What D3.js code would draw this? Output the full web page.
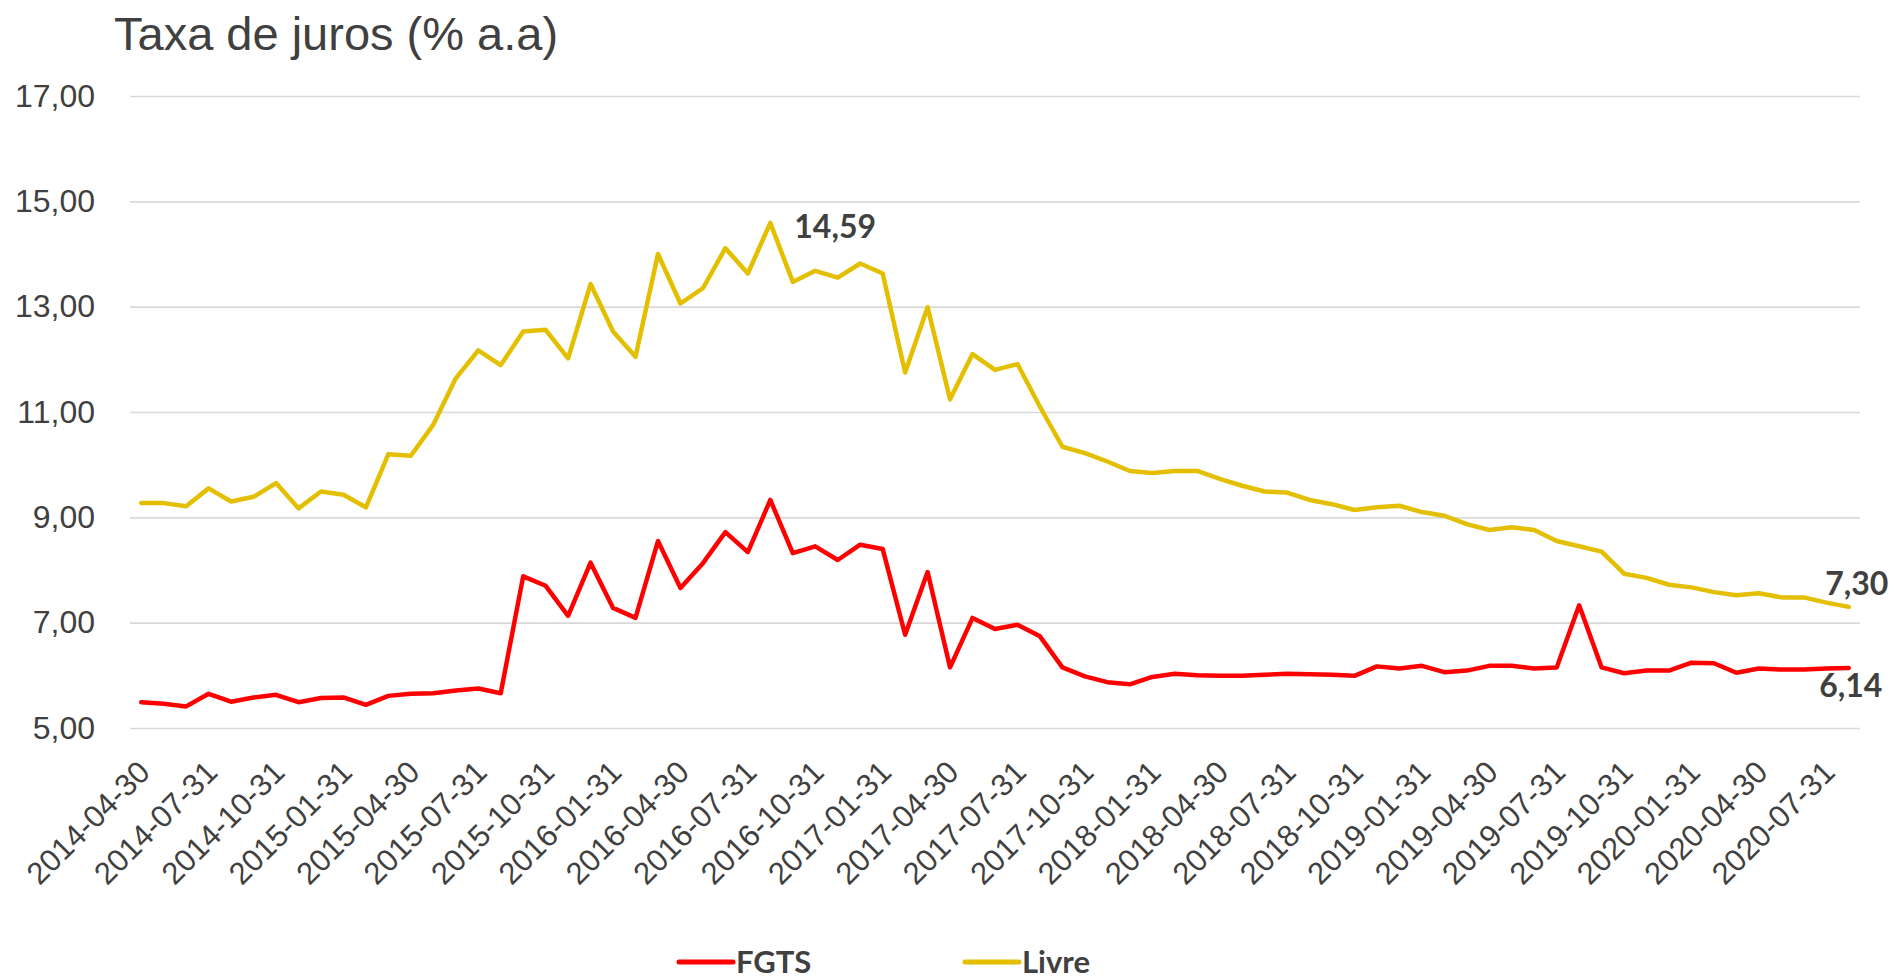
<!DOCTYPE html>
<html>
<head>
<meta charset="utf-8">
<script src="https://cdn.jsdelivr.net/npm/d3@7"></script>
<style>
    body { margin: 0; background: #ffffff; }
    svg { display: block; }
</style>
</head>
<body>
<svg id="plot" width="1897" height="980"></svg>
<script>

// Categories (month ends).

const DATES = [
    "2014-04-30", "2014-05-31", "2014-06-30", "2014-07-31", "2014-08-31", "2014-09-30",
    "2014-10-31", "2014-11-30", "2014-12-31",
    "2015-01-31", "2015-02-28", "2015-03-31", "2015-04-30", "2015-05-31", "2015-06-30",
    "2015-07-31", "2015-08-31", "2015-09-30", "2015-10-31", "2015-11-30", "2015-12-31",
    "2016-01-31", "2016-02-29", "2016-03-31", "2016-04-30", "2016-05-31", "2016-06-30",
    "2016-07-31", "2016-08-31", "2016-09-30", "2016-10-31", "2016-11-30", "2016-12-31",
    "2017-01-31", "2017-02-28", "2017-03-31", "2017-04-30", "2017-05-31", "2017-06-30",
    "2017-07-31", "2017-08-31", "2017-09-30", "2017-10-31", "2017-11-30", "2017-12-31",
    "2018-01-31", "2018-02-28", "2018-03-31", "2018-04-30", "2018-05-31", "2018-06-30",
    "2018-07-31", "2018-08-31", "2018-09-30", "2018-10-31", "2018-11-30", "2018-12-31",
    "2019-01-31", "2019-02-28", "2019-03-31", "2019-04-30", "2019-05-31", "2019-06-30",
    "2019-07-31", "2019-08-31", "2019-09-30", "2019-10-31", "2019-11-30", "2019-12-31",
    "2020-01-31", "2020-02-29", "2020-03-31", "2020-04-30", "2020-05-31", "2020-06-30",
    "2020-07-31", "2020-08-31",
];

// Series values (% a.a).

const FGTS = [
    5.49, 5.46, 5.41, 5.65, 5.50, 5.58, 5.63, 5.49, 5.57,
    5.58, 5.44, 5.61, 5.65, 5.66, 5.71, 5.75, 5.66, 7.88, 7.70, 7.13, 8.14,
    7.28, 7.09, 8.55, 7.66, 8.13, 8.72, 8.34, 9.33, 8.32, 8.45, 8.19, 8.48,
    8.40, 6.77, 7.96, 6.15, 7.09, 6.88, 6.96, 6.74, 6.15, 5.98, 5.87, 5.83,
    5.97, 6.03, 6.00, 5.99, 5.99, 6.01, 6.03, 6.02, 6.01, 5.99, 6.17, 6.13,
    6.18, 6.06, 6.09, 6.18, 6.18, 6.13, 6.15, 7.33, 6.15, 6.04, 6.09, 6.09,
    6.24, 6.23, 6.05, 6.13, 6.11, 6.11, 6.13, 6.14,
];

const LIVRE = [
    9.27, 9.27, 9.21, 9.55, 9.30, 9.39, 9.65, 9.17, 9.49,
    9.43, 9.19, 10.20, 10.17, 10.76, 11.64, 12.17, 11.89, 12.53, 12.56, 12.02, 13.43,
    12.53, 12.05, 14.00, 13.06, 13.35, 14.11, 13.63, 14.59, 13.47, 13.68, 13.55, 13.82,
    13.63, 11.75, 12.99, 11.24, 12.10, 11.80, 11.91, 11.10, 10.34, 10.22, 10.06, 9.88,
    9.84, 9.88, 9.88, 9.73, 9.60, 9.49, 9.47, 9.33, 9.25, 9.14, 9.19, 9.22,
    9.10, 9.03, 8.87, 8.76, 8.81, 8.76, 8.55, 8.45, 8.35, 7.93, 7.85, 7.72,
    7.67, 7.58, 7.52, 7.56, 7.48, 7.48, 7.38, 7.30,
];

// Tick labels.

const X_TICKS = [
    "2014-04-30", "2014-07-31", "2014-10-31", "2015-01-31", "2015-04-30", "2015-07-31",
    "2015-10-31", "2016-01-31", "2016-04-30", "2016-07-31", "2016-10-31", "2017-01-31",
    "2017-04-30", "2017-07-31", "2017-10-31", "2018-01-31", "2018-04-30", "2018-07-31",
    "2018-10-31", "2019-01-31", "2019-04-30", "2019-07-31", "2019-10-31", "2020-01-31",
    "2020-04-30", "2020-07-31",
];

const Y_TICKS = [5, 7, 9, 11, 13, 15, 17];

// Labelled points: series, date, placement.

const LABELS = [
    { "series": "Livre", "date": "2016-08-31", "dx": 24, "dy": 15, "anchor": "start" },
    { "series": "Livre", "date": "2020-08-31", "dx": 8, "dy": -12, "anchor": "middle" },
    { "series": "FGTS", "date": "2020-08-31", "dx": 2, "dy": 29, "anchor": "middle" },
];

const series = [
    { "name": "FGTS", "values": FGTS, "color": "#ff0000" },
    { "name": "Livre", "values": LIVRE, "color": "#e3bf00" },
];

// Plot geometry.

const plot = d3.select("#plot");

const margin = {
    "T": 96,
    "B": 728,
    "L": 130,
    "R": 1860,
};

const textColor = "#404040";
const axisFont = "'Liberation Sans', Arial, sans-serif";
const boldFont = "Lato, 'Open Sans', sans-serif";

//----------------------------------------------------------------------------//
//                                    AXES                                    //
//----------------------------------------------------------------------------//

const xScale = d3.scalePoint()
    .domain(DATES)
    .range([margin.L, margin.R])
    .padding(0.5);

const yScale = d3.scaleLinear()
    .domain([5, 17])
    .range([margin.B, margin.T]);

// Gridlines and y labels.

const yAxis = d3.axisLeft(yScale)
    .tickValues(Y_TICKS)
    .tickSize(-(margin.R - margin.L))
    .tickPadding(35)
    .tickFormat(d => d3.format(".2f")(d).replace(".", ","));

const yAx = plot.append("g")
    .attr("transform", `translate(${margin.L}, 0)`)
    .call(yAxis);

yAx.select(".domain").remove();
yAx.selectAll(".tick line")
    .attr("stroke", "#d9d9d9")
    .attr("stroke-width", 1.6);
yAx.selectAll(".tick text")
    .attr("fill", textColor)
    .style("font-family", axisFont)
    .style("font-size", "32px");

// x labels, rotated.

const xAxis = d3.axisBottom(xScale)
    .tickValues(X_TICKS)
    .tickSize(0)
    .tickPadding(0);

const xAx = plot.append("g")
    .attr("transform", `translate(0, ${margin.B})`)
    .call(xAxis);

xAx.select(".domain").remove();
xAx.selectAll(".tick text")
    .attr("fill", textColor)
    .style("font-family", axisFont)
    .style("font-size", "31px")
    .attr("text-anchor", "end")
    .attr("dy", null)
    .attr("y", 0)
    .attr("transform", "translate(10, 46) rotate(-45)");

// Title.

plot.append("text")
    .text("Taxa de juros (% a.a)")
    .attr("x", 114)
    .attr("y", 50)
    .attr("fill", textColor)
    .style("font-family", axisFont)
    .style("font-size", "47px");

//----------------------------------------------------------------------------//
//                                    LINES                                   //
//----------------------------------------------------------------------------//

const line = d3.line()
    .x((d, i) => xScale(DATES[i]))
    .y(d => yScale(d));

plot.selectAll("path.series")
    .data(series)
    .join("path")
        .attr("class", "series")
        .attr("d", d => line(d.values))
        .attr("stroke", d => d.color)
        .attr("stroke-width", 4.5)
        .attr("stroke-linejoin", "round")
        .attr("stroke-linecap", "round")
        .attr("fill", "none");

// Data labels.

plot.selectAll("text.label")
    .data(LABELS)
    .join("text")
        .attr("class", "label")
        .attr("x", d => xScale(d.date) + d.dx)
        .attr("y", d => {
            const s = series.find(s => s.name === d.series);
            return yScale(s.values[DATES.indexOf(d.date)]) + d.dy;
        })
        .attr("text-anchor", d => d.anchor)
        .attr("fill", textColor)
        .style("font-family", boldFont)
        .style("font-weight", "bold")
        .style("font-size", "32px")
        .text(d => {
            const s = series.find(s => s.name === d.series);
            return d3.format(".2f")(s.values[DATES.indexOf(d.date)]).replace(".", ",");
        });

//----------------------------------------------------------------------------//
//                                   LEGEND                                   //
//----------------------------------------------------------------------------//

const legendX = [679, 965];

const legend = plot.selectAll("g.legend")
    .data(series)
    .join("g")
        .attr("class", "legend")
        .attr("transform", (d, i) => `translate(${legendX[i]}, 962)`);

legend.append("line")
    .attr("x1", 0)
    .attr("x2", 54)
    .attr("stroke", d => d.color)
    .attr("stroke-width", 5)
    .attr("stroke-linecap", "round");

legend.append("text")
    .text(d => d.name)
    .attr("x", 57)
    .attr("y", 11)
    .attr("fill", textColor)
    .style("font-family", boldFont)
    .style("font-weight", "bold")
    .style("font-size", "31px");

</script>
</body>
</html>
